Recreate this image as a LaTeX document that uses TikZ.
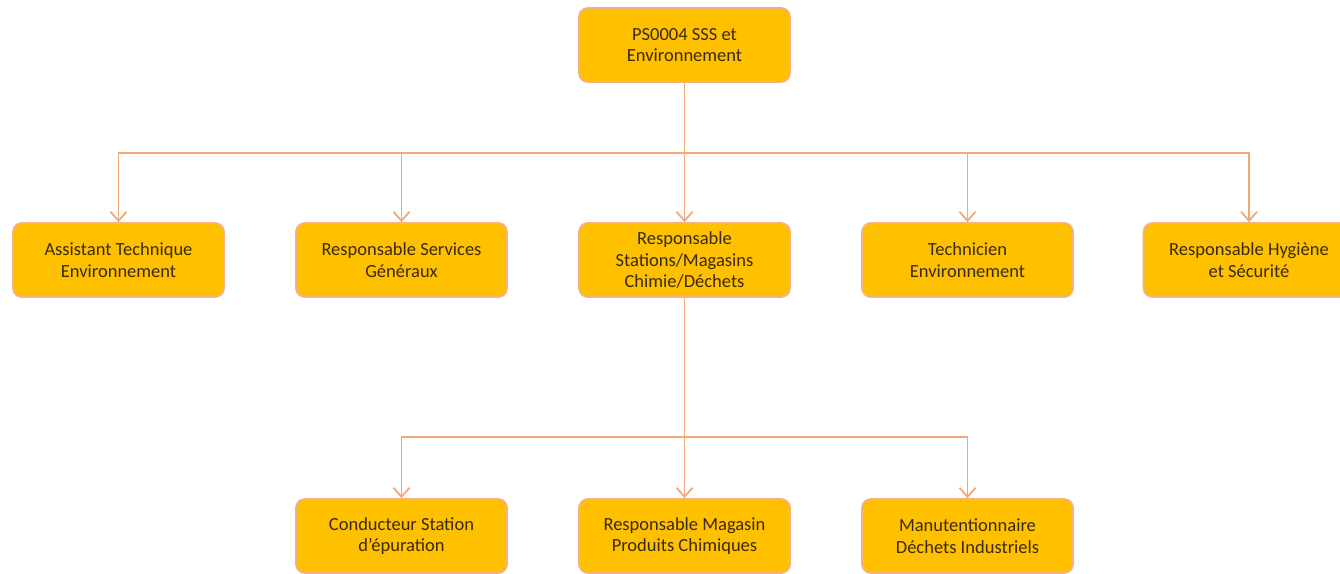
\documentclass[tikz,border=0pt]{standalone}
\usepackage{fontspec}
\setmainfont{Carlito}
\usetikzlibrary{arrows.meta}
\definecolor{boxfill}{HTML}{FFC000}
\definecolor{boxedge}{HTML}{F4B183}
\definecolor{linkc}{HTML}{F4A679}
\definecolor{txt}{HTML}{3A2A00}
\tikzset{
  orgbox/.style={draw=boxedge, line width=1.8pt, fill=boxfill, rounded corners=9pt,
    minimum width=211pt, minimum height=74pt, inner sep=2pt, align=center,
    text=txt, font=\fontsize{18.5}{21.5}\selectfont},
  link/.style={draw=linkc, line width=1.8pt},
  arr/.style={link, -{Straight Barb[length=9pt,width=16pt,line width=1.8pt]}}
}
\begin{document}
\begin{tikzpicture}[x=1pt,y=-1pt]
\useasboundingbox (0,0) rectangle (1340,573);
\node[orgbox] (top) at (684.5,45) {PS0004 SSS et\\Environnement};
\node[orgbox] (a) at (118.5,260) {Assistant Technique\\Environnement};
\node[orgbox] (b) at (401.5,260) {Responsable Services\\Généraux};
\node[orgbox] (c) at (684.5,260) {Responsable\\Stations/Magasins\\Chimie/Déchets};
\node[orgbox] (d) at (967.5,260) {Technicien\\Environnement};
\node[orgbox] (e) at (1249,260) {Responsable Hygiène\\et Sécurité};
\node[orgbox] (f) at (401.5,536) {Conducteur Station\\d’épuration};
\node[orgbox] (g) at (684.5,536) {Responsable Magasin\\Produits Chimiques};
\node[orgbox] (h) at (967.5,536) {Manutentionnaire\\Déchets Industriels};
\coordinate (j1) at (684.5,153);
\coordinate (j2) at (684.5,437);
\draw[link] (top.south) -- (j1);
\foreach \n in {a,b,c,d,e}{
  \draw[arr] (j1) -| (\n.north);
}
\draw[link] (c.south) -- (j2);
\foreach \n in {f,g,h}{
  \draw[arr] (j2) -| (\n.north);
}
\end{tikzpicture}
\end{document}
